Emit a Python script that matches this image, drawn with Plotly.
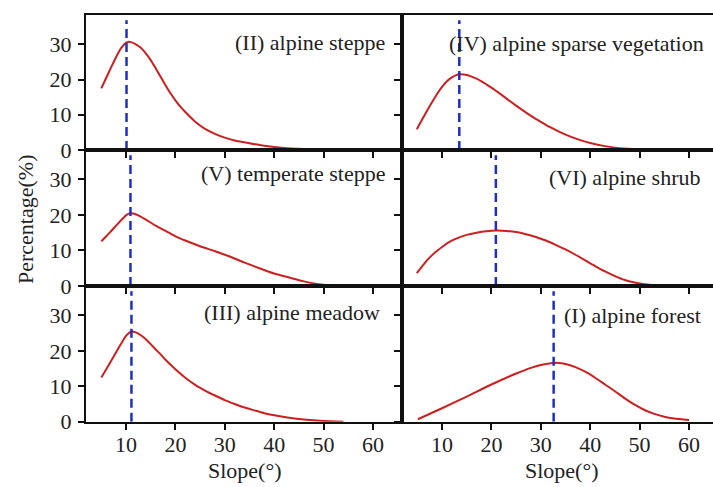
import plotly.graph_objects as go

# ---- data ----
slope_II = [5, 6, 7, 8, 9, 10, 10.5, 11, 12, 13, 14, 15, 16, 17, 18, 19, 20, 21, 22, 24, 26, 28, 30,
            32, 35, 38, 42, 46, 50, 55]
pct_II = [17.5, 20.5, 23.5, 26.4, 28.9, 30.4, 30.7, 30.6, 30.0, 29.0, 27.4, 25.5, 23.2, 20.8, 18.4,
          16.1, 14.1, 12.3, 10.8, 8.0, 6.0, 4.6, 3.5, 2.7, 1.9, 1.2, 0.6, 0.3, 0.1, 0.0]

slope_IV = [4.9, 6, 7, 8, 9, 10, 11, 12, 13, 13.5, 14.5, 16, 18, 20, 22, 24, 26, 28, 30, 32, 34, 36,
            38, 40, 43, 46, 50, 54, 58]
pct_IV = [5.9, 8.7, 11.2, 13.6, 15.9, 17.9, 19.5, 20.6, 21.3, 21.5, 21.4, 20.8, 19.5, 17.7, 15.7,
          13.6, 11.6, 9.7, 8.0, 6.4, 5.0, 3.8, 2.8, 2.0, 1.1, 0.5, 0.2, 0.05, 0.0]

slope_V = [5, 6, 7, 8, 9, 10, 10.8, 11.5, 12.5, 14, 16, 18, 20, 22, 25, 28, 31, 34, 37, 40, 43, 46,
           49, 52, 56]
pct_V = [12.6, 14.0, 15.5, 17.0, 18.5, 19.9, 20.5, 20.4, 19.9, 18.7, 17.0, 15.5, 14.0, 12.8, 11.2,
         9.8, 8.3, 6.6, 5.0, 3.5, 2.4, 1.3, 0.5, 0.1, 0.0]

slope_VI = [4.9, 6, 7, 8, 9, 10, 11.5, 13, 15, 17, 19, 21, 23, 25, 27, 29, 31, 33, 35, 37, 39, 41,
            43, 45, 47, 49, 51, 54, 57, 60]
pct_VI = [3.6, 5.6, 7.3, 8.7, 9.9, 11.0, 12.4, 13.4, 14.4, 15.0, 15.4, 15.6, 15.5, 15.2, 14.6, 13.8,
          12.8, 11.6, 10.3, 8.8, 7.2, 5.6, 4.1, 2.8, 1.7, 1.0, 0.5, 0.15, 0.03, 0.0]

slope_III = [5, 6, 7, 8, 9, 10, 11, 12, 13, 14, 15, 16, 17, 18, 20, 22, 24, 26, 28, 30, 32, 34, 36,
             38, 40, 43, 46, 50, 54]
pct_III = [12.5, 14.8, 17.2, 19.6, 22.0, 24.2, 25.4, 25.2, 24.4, 23.3, 21.9, 20.4, 19.0, 17.5, 14.8,
           12.4, 10.4, 8.8, 7.4, 6.1, 5.0, 4.0, 3.2, 2.4, 1.8, 1.1, 0.6, 0.2, 0.0]

slope_I = [5.1, 10, 15, 20, 25, 28, 30, 32, 33.5, 35, 37, 39, 41, 43, 45, 47, 49, 51, 53, 55, 57, 60]
pct_I = [0.7, 3.8, 7.1, 10.5, 13.6, 15.2, 16.0, 16.5, 16.6, 16.3, 15.4, 14.1, 12.4, 10.5, 8.6, 6.6,
         4.8, 3.3, 2.2, 1.4, 0.9, 0.5]

panel_labels = ["(II) alpine steppe", "(IV) alpine sparse vegetation",
                "(V) temperate steppe", "(VI) alpine shrub",
                "(III) alpine meadow", "(I) alpine forest"]
modal_slope = [10.1, 13.5, 10.9, 20.9, 11.1, 32.6]
x_ticks = [10, 20, 30, 40, 50, 60]
y_ticks = [0, 10, 20, 30]

series_x = [slope_II, slope_IV, slope_V, slope_VI, slope_III, slope_I]
series_y = [pct_II, pct_IV, pct_V, pct_VI, pct_III, pct_I]

# ---- styling / layout ----
W, H = 713, 487
RED = "#cc2020"
BLUE = "#1f2ec8"
FONT = dict(family="Liberation Serif, Times New Roman, serif", size=22, color="#222222")

xl = [86 / W, 402 / W]
xr = [402 / W, 1.0]
rows = [[1 - 150 / H, 1 - 15 / H], [1 - 286 / H, 1 - 150 / H], [1 - 421.7 / H, 1 - 286 / H]]
x_range_l = [1.9, 65.87]
x_range_r = [1.9, 64.86]
y_range = [0, 38.3]
line_top = 36.8

fig = go.Figure()
layout = dict(width=W, height=H, margin=dict(l=0, r=0, t=0, b=0, autoexpand=False),
              plot_bgcolor="white", paper_bgcolor="white", showlegend=False,
              font=FONT)

for i in range(6):
    n = i + 1
    col = i % 2
    row = i // 2
    xa = "x" if n == 1 else f"x{n}"
    ya = "y" if n == 1 else f"y{n}"
    fig.add_trace(go.Scatter(x=series_x[i], y=series_y[i], mode="lines",
                             line=dict(color=RED, width=2, shape="spline", smoothing=0.6),
                             xaxis=xa, yaxis=ya, hoverinfo="skip"))
    fig.add_trace(go.Scatter(x=[modal_slope[i], modal_slope[i]], y=[0, line_top], mode="lines",
                             line=dict(color=BLUE, width=2.5, dash="9px,5px"),
                             xaxis=xa, yaxis=ya, hoverinfo="skip"))
    layout[f"xaxis{n}"] = dict(domain=xl if col == 0 else xr,
                               range=x_range_l if col == 0 else x_range_r,
                               anchor=ya, tickvals=x_ticks, showgrid=False, zeroline=False,
                               showline=True, linecolor="#111", linewidth=2, mirror=True,
                               ticks="outside", ticklen=6, tickwidth=2, tickcolor="#111",
                               showticklabels=(row == 2), tickfont=FONT,
                               ticklabelstandoff=-4, automargin=False)
    layout[f"yaxis{n}"] = dict(domain=rows[row], range=y_range, anchor=xa,
                               tickvals=y_ticks, showgrid=False, zeroline=False,
                               showline=True, linecolor="#111", linewidth=2,
                               mirror=(col == 0),
                               ticks="outside", ticklen=6, tickwidth=2, tickcolor="#111",
                               showticklabels=(col == 0), tickfont=FONT,
                               ticklabelstandoff=2, automargin=False)

# inward ticks along the top border of the top panels
layout["xaxis7"] = dict(overlaying="x", side="top", anchor="y", range=x_range_l,
                        tickvals=x_ticks, ticks="inside", ticklen=6, tickwidth=2,
                        tickcolor="#111", showticklabels=False, showline=False,
                        showgrid=False, zeroline=False, automargin=False)
layout["xaxis8"] = dict(overlaying="x2", side="top", anchor="y2", range=x_range_r,
                        tickvals=x_ticks, ticks="inside", ticklen=6, tickwidth=2,
                        tickcolor="#111", showticklabels=False, showline=False,
                        showgrid=False, zeroline=False, automargin=False)
# small tick marks at the right edge of the right panels
for k, base in zip([7, 8, 9], ["y2", "y4", "y6"]):
    layout[f"yaxis{k}"] = dict(overlaying=base, side="right", anchor="free", position=1.0,
                               range=y_range, tickvals=y_ticks[1:], ticks="inside", ticklen=4,
                               tickwidth=2, tickcolor="#111", showticklabels=False,
                               showline=False, showgrid=False, zeroline=False,
                               automargin=False)

fig.update_layout(**layout)

ann = []
label_pos = [(387, 42, "right"), (447, 43, "left"), (387, 173, "right"),
             (703, 177, "right"), (382, 312, "right"), (703, 315, "right")]
for txt, (px, py, anc) in zip(panel_labels, label_pos):
    ann.append(dict(text=txt, x=px / W, y=1 - py / H, xref="paper", yref="paper",
                    xanchor=anc, yanchor="middle", showarrow=False, font=FONT))
ann.append(dict(text="Percentage(%)", x=25 / W, y=1 - 220 / H, xref="paper", yref="paper",
                textangle=-90, xanchor="center", yanchor="middle", showarrow=False, font=FONT))
for cx in (245, 562):
    ann.append(dict(text="Slope(°)", x=cx / W, y=2 / H, xref="paper", yref="paper",
                    xanchor="center", yanchor="bottom", showarrow=False, font=FONT))
fig.update_layout(annotations=ann)

fig.write_html("out.html")
